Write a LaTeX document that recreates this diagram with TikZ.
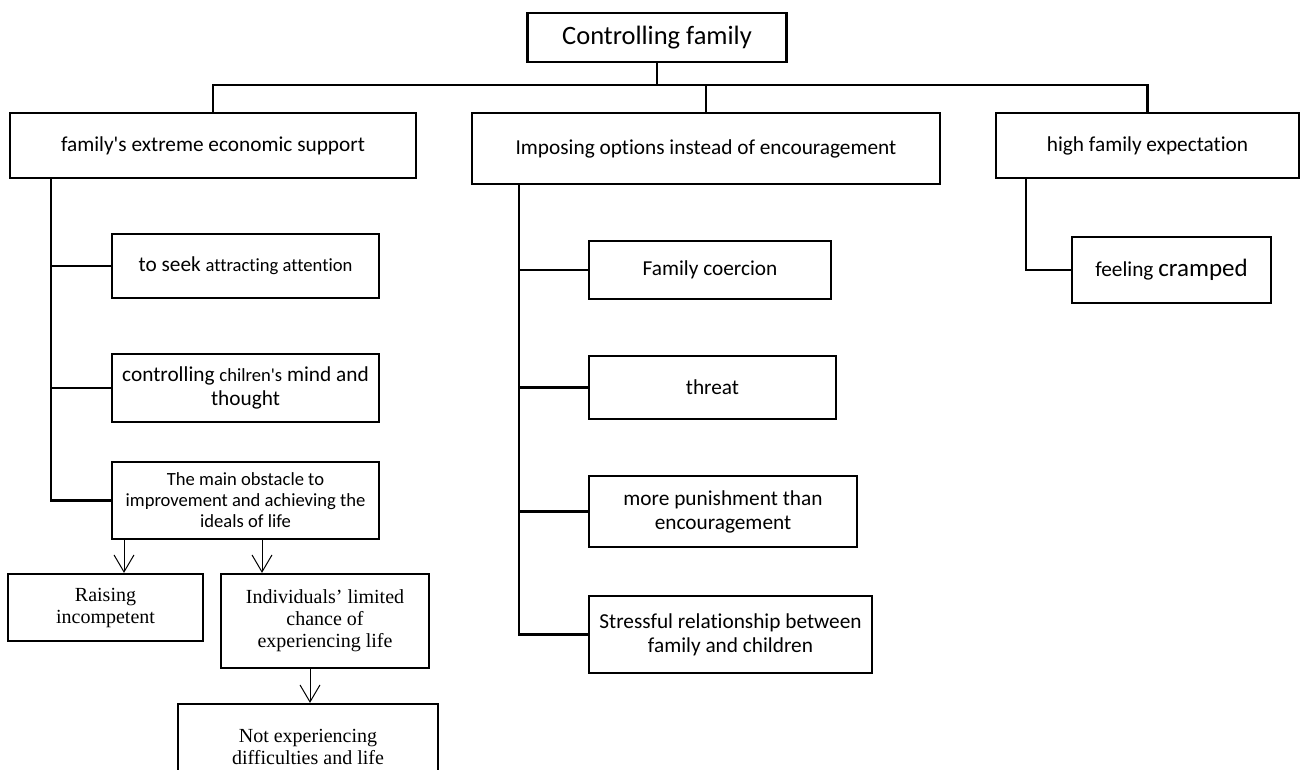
\documentclass[tikz,border=0pt]{standalone}
\usepackage{fontspec}
\setmainfont{Carlito}[Ligatures={NoCommon}]
\newfontfamily\serifcam{Liberation Serif}
\usetikzlibrary{arrows.meta}
\newcommand{\sq}{\textquotesingle}
\begin{document}
\begin{tikzpicture}[x=1pt,y=-1pt,
  box/.style={draw,line width=2.2pt,inner sep=0pt,align=center,font=\fontsize{21.3}{24}\selectfont},
  smallbox/.style={box,font=\fontsize{18.6}{21}\selectfont},
  serbox/.style={box,font=\serifcam\fontsize{20}{22}\selectfont},
  conn/.style={line width=2.2pt},
  arr/.style={line width=1pt,-{Straight Barb[length=17pt,width=20pt,line width=1pt]}}]
\clip (0,0) rectangle (1306,769);
\fill[white] (0,0) rectangle (1306,769);
% top
\node[box,minimum width=259,minimum height=49,font=\fontsize{26.5}{30}\selectfont] (top) at (657,37.5) {Controlling family};
% level 1
\node[box,minimum width=406,minimum height=65] (b1) at (213,145.5) {family\sq s extreme economic support};
\node[box,minimum width=468,minimum height=71] (b2) at (706,148.5) {Imposing options instead of encouragement};
\node[box,minimum width=303,minimum height=65] (b3) at (1147.5,145.5) {high family expectation};
% left branch
\node[box,minimum width=267,minimum height=64] (s1) at (245.5,266) {to seek {\fontsize{18.6}{21}\selectfont attracting attention}};
\node[box,minimum width=267,minimum height=68] (s2) at (245.5,388) {controlling {\fontsize{18.6}{21}\selectfont chilren\sq s} mind and\\thought};
\node[smallbox,minimum width=267,minimum height=77] (s3) at (245.5,500.5) {The main obstacle to\\improvement and achieving the\\ideals of life};
\node[serbox,minimum width=195,minimum height=67] (r1) at (105.5,607.5) {Raising\\incompetent};
\node[serbox,minimum width=208,minimum height=94] (r2) at (325,621) {Individuals’ limited\\chance of\\experiencing life};
\node[serbox,minimum width=260,minimum height=86] (n1) at (308,747) {Not experiencing\\difficulties and life};
% middle branch
\node[box,minimum width=242,minimum height=58] (m1) at (710,270) {Family coercion};
\node[box,minimum width=247,minimum height=63] (m2) at (712.5,387.5) {threat};
\node[box,minimum width=268,minimum height=71] (m3) at (723,511.5) {more punishment than\\encouragement};
\node[box,minimum width=283,minimum height=77] (m4) at (730.5,634.5) {Stressful relationship between\\family and children};
% right branch
\node[box,minimum width=199,minimum height=66] (f1) at (1171.5,270) {feeling {\fontsize{25}{28}\selectfont cramped}};
% tree connectors
\coordinate (hb) at (657,85);
\draw[conn] (top.south) -- (hb);
\draw[conn] (b1.north) -- (b1.north |- hb) -- (b3.north |- hb) -- (b3.north);
\draw[conn] (b2.north |- hb) -- (b2.north);
% left trunk
\coordinate (lt) at (51,178);
\draw[conn] (lt) |- (s3.west);
\draw[conn] (lt |- s1.west) -- (s1.west);
\draw[conn] (lt |- s2.west) -- (s2.west);
% middle trunk
\coordinate (mt) at (519,184);
\draw[conn] (mt) |- (m4.west);
\draw[conn] (mt |- m1.west) -- (m1.west);
\draw[conn] (mt |- m2.west) -- (m2.west);
\draw[conn] (mt |- m3.west) -- (m3.west);
% right trunk
\coordinate (rt) at (1026,178);
\draw[conn] (rt) |- (f1.west);
% arrows
\draw[arr] (s3.south -| 124,0) -- (r1.north -| 124,0);
\draw[arr] (s3.south -| 262,0) -- (r2.north -| 262,0);
\draw[arr] (r2.south -| 310,0) -- (n1.north -| 310,0);
\end{tikzpicture}
\end{document}
